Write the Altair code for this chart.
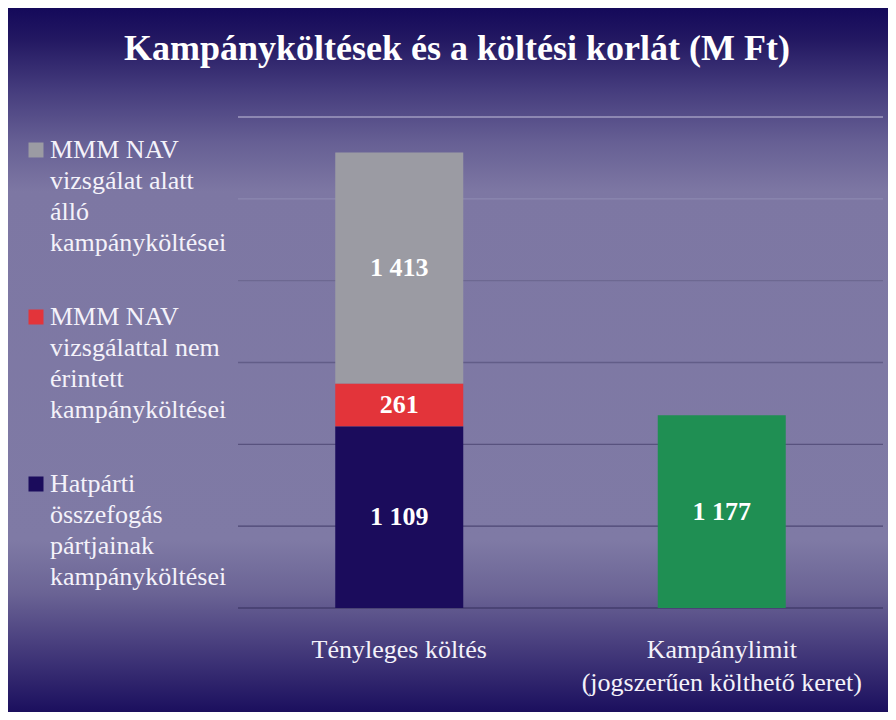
import altair as alt
import pandas as pd

title_text = "Kampányköltések és a költési korlát (M Ft)"
categories = ["Tényleges költés", "Kampánylimit\n(jogszerűen költhető keret)"]
series = [
    "MMM NAV\nvizsgálat alatt\nálló\nkampányköltései",
    "MMM NAV\nvizsgálattal nem\nérintett\nkampányköltései",
    "Hatpárti\nösszefogás\npártjainak\nkampányköltései",
    "Kampánylimit",
]
bar_category = [categories[0], categories[0], categories[0], categories[1]]
values = [1413, 261, 1109, 1177]
stack_order = [3, 2, 1, 1]
colors = ["#9b9ba3", "#e3343a", "#1b0c5c", "#1f8f53"]
grid_values = [0, 500, 1000, 1500, 2000, 2500, 3000]

df = pd.DataFrame({"category": bar_category, "series": series,
                   "value": values, "order": stack_order})
grid_df = pd.DataFrame({"v": grid_values})

FONT = "Liberation Serif"

gradient = alt.Gradient(
    gradient="linear", x1=0, x2=0, y1=0, y2=1,
    stops=[
        alt.GradientStop(color="#14095a", offset=0.0),
        alt.GradientStop(color="#231862", offset=0.045),
        alt.GradientStop(color="#453c7d", offset=0.116),
        alt.GradientStop(color="#665f94", offset=0.19),
        alt.GradientStop(color="#7d77a3", offset=0.26),
        alt.GradientStop(color="#7f7aa5", offset=0.756),
        alt.GradientStop(color="#6b6495", offset=0.83),
        alt.GradientStop(color="#4a407f", offset=0.9),
        alt.GradientStop(color="#1b0f5e", offset=1.0),
    ],
)

bg = alt.Chart(pd.DataFrame({"a": [0]})).mark_rect(fill=gradient).encode(
    x=alt.value(-230), x2=alt.value(650), y=alt.value(-109), y2=alt.value(595)
)

rules = alt.Chart(grid_df).mark_rule(strokeWidth=1.3).encode(
    y=alt.Y("v:Q", scale=alt.Scale(domain=[0, 3000]), axis=None),
    stroke=alt.Stroke("v:Q", scale=alt.Scale(domain=[0, 2000, 2500, 3000],
                                              range=["#433c6c", "#6d6891", "#8d88b0", "#a09bc0"]),
                      legend=None),
)

xenc = alt.X(
    "category:N", sort=categories,
    scale=alt.Scale(paddingInner=0, paddingOuter=0),
    axis=alt.Axis(title=None, labelExpr="split(datum.label, '\\n')", domain=False, ticks=False,
                  tickSize=0, labelAngle=0, labelFont=FONT, labelFontSize=26, labelLimit=400,
                  labelColor="#f4f2fa", labelPadding=28, labelLineHeight=33, grid=False, zindex=1),
)

bars = alt.Chart(df).mark_bar(size=128).encode(
    x=xenc,
    y=alt.Y("value:Q", stack="zero", scale=alt.Scale(domain=[0, 3000]), axis=None),
    color=alt.Color(
        "series:N", scale=alt.Scale(domain=series, range=colors),
        legend=alt.Legend(values=series[:3], title=None, orient="none", legendX=-215, legendY=20,
                          symbolType="square", symbolSize=225, symbolStrokeWidth=0,
                          labelFont=FONT, labelFontSize=26, labelColor="#f4f2fa",
                          labelExpr="split(datum.label, '\\n')", rowPadding=48,
                          labelOffset=1, labelLimit=400, labelBaseline="middle", zindex=1),
    ),
    order=alt.Order("order:Q"),
)

labels = alt.Chart(df).transform_stack(
    stack="value", groupby=["category"], as_=["y0", "y1"],
    sort=[alt.SortField("order", "ascending")],
).transform_calculate(
    mid="(datum.y0 + datum.y1) / 2",
    lab="replace(format(datum.value, ','), ',', ' ')",
).mark_text(font=FONT, fontSize=26, fontWeight="bold", color="white").encode(
    x=alt.X("category:N", sort=categories),
    y=alt.Y("mid:Q"),
    text="lab:N",
)

title = alt.Chart(pd.DataFrame({"t": [title_text]})).mark_text(
    font=FONT, fontSize=36, fontWeight="bold", color="white", align="center", baseline="middle"
).encode(text="t:N", x=alt.value(219), y=alt.value(-68))

chart = alt.layer(bg, rules, bars, labels, title).properties(
    width=645, height=491,
    autosize=alt.AutoSizeParams(type="none"),
    padding={"left": 230, "top": 109, "right": 5, "bottom": 104},
).configure_view(strokeWidth=0).configure(
    background="white", style={"guide-label": {"lineHeight": 31}}
)

chart.save("out.html", embed_options={"renderer": "svg", "actions": False})
